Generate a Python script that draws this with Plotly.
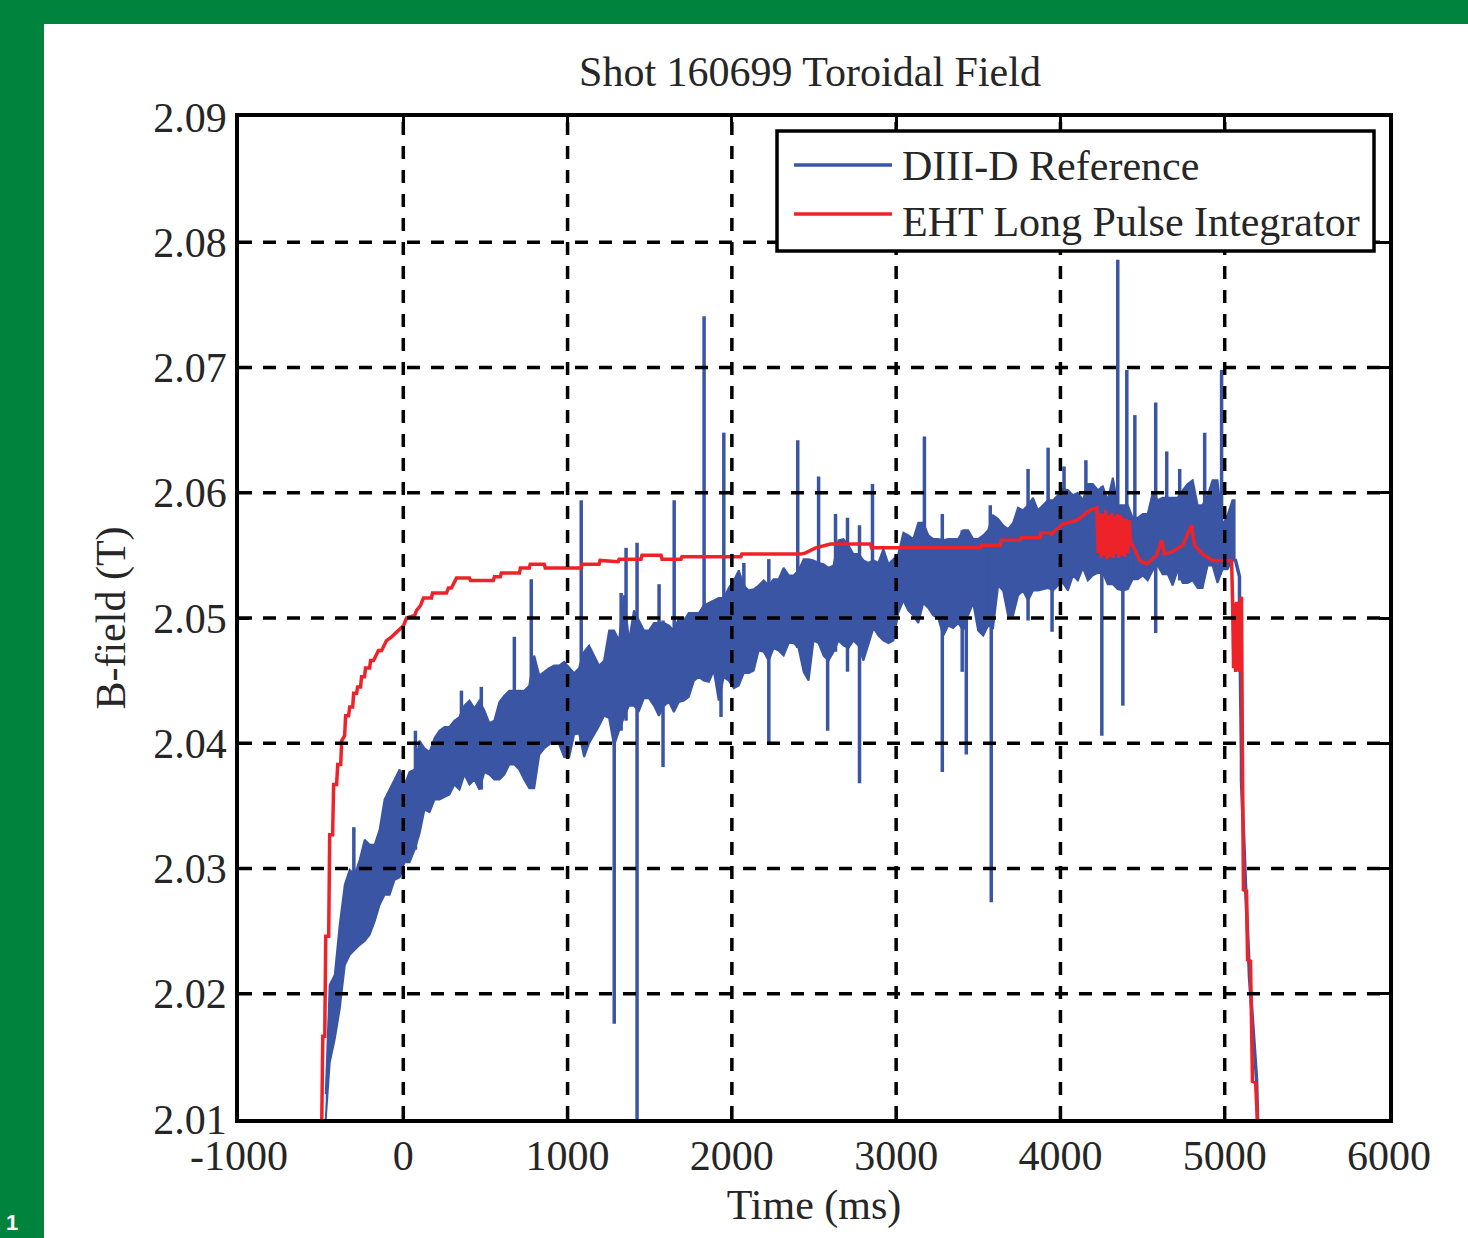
import plotly.graph_objects as go

# ---------------- data ----------------
x_ticks = [-1000, 0, 1000, 2000, 3000, 4000, 5000, 6000]
x_labels = ["-1000", "0", "1000", "2000", "3000", "4000", "5000", "6000"]
y_ticks = [2.01, 2.02, 2.03, 2.04, 2.05, 2.06, 2.07, 2.08, 2.09]
y_labels = ["2.01", "2.02", "2.03", "2.04", "2.05", "2.06", "2.07", "2.08", "2.09"]

series_names = ["DIII-D Reference", "EHT Long Pulse Integrator"]

# DIII-D reference: envelope of the dense noisy band (time in ms, field in T)
env_t = [-472, -448, -417, -387, -356, -326, -296, -265, -235, -205, -174, -144, -114, -83, -53, -22,
         8, 38, 69, 99, 129, 160, 190, 220, 251, 281, 311, 342, 372, 403, 433, 463, 494, 524, 554,
         585, 615, 645, 676, 706, 736, 767, 797, 828, 858, 888, 919, 949, 979, 1010, 1040, 1070,
         1101, 1131, 1162, 1192, 1222, 1253, 1283, 1313, 1344, 1374, 1404, 1435, 1465, 1495, 1526,
         1556, 1587, 1617, 1647, 1678, 1708, 1738, 1769, 1799, 1829, 1860, 1890, 1920, 1951, 1981,
         2012, 2042, 2072, 2103, 2133, 2163, 2194, 2224, 2254, 2285, 2315, 2346, 2376, 2406, 2437,
         2467, 2497, 2528, 2558, 2588, 2619, 2649, 2679, 2710, 2740, 2771, 2801, 2831, 2862, 2892,
         2922, 2953, 2983, 3013, 3044, 3074, 3104, 3135, 3165, 3196, 3226, 3256, 3287, 3317, 3347,
         3378, 3408, 3438, 3469, 3499, 3530, 3560, 3590, 3621, 3651, 3681, 3712, 3742, 3772, 3803,
         3833, 3863, 3894, 3924, 3955, 3985, 4015, 4046, 4076, 4106, 4137, 4167, 4197, 4228, 4258,
         4288, 4319, 4349, 4380, 4410, 4440, 4471, 4501, 4531, 4562, 4592, 4622, 4653, 4683, 4713,
         4744, 4774, 4805, 4835, 4865, 4896, 4926, 4956, 4987, 5017, 5047, 5060]
env_top = [2.0120, 2.0207, 2.0215, 2.0255, 2.0287, 2.0299, 2.0295, 2.0307, 2.0323, 2.0319,
           2.0319, 2.0331, 2.0355, 2.0363, 2.0371, 2.0379, 2.0367, 2.0377, 2.0379, 2.0402,
           2.0396, 2.0393, 2.0404, 2.0410, 2.0413, 2.0413, 2.0418, 2.0421, 2.0430, 2.0434,
           2.0428, 2.0434, 2.0426, 2.0416, 2.0418, 2.0433, 2.0438, 2.0442, 2.0442, 2.0442,
           2.0442, 2.0446, 2.0470, 2.0454, 2.0457, 2.0460, 2.0462, 2.0462, 2.0465, 2.0460,
           2.0456, 2.0460, 2.0473, 2.0478, 2.0470, 2.0462, 2.0466, 2.0490, 2.0490, 2.0482,
           2.0518, 2.0482, 2.0506, 2.0498, 2.0490, 2.0490, 2.0496, 2.0496, 2.0496, 2.0494,
           2.0490, 2.0500, 2.0498, 2.0504, 2.0504, 2.0504, 2.0510, 2.0512, 2.0514, 2.0516,
           2.0516, 2.0524, 2.0530, 2.0538, 2.0526, 2.0522, 2.0523, 2.0526, 2.0530, 2.0526,
           2.0531, 2.0531, 2.0540, 2.0534, 2.0534, 2.0538, 2.0547, 2.0547, 2.0546, 2.0544,
           2.0543, 2.0540, 2.0542, 2.0562, 2.0563, 2.0558, 2.0551, 2.0551, 2.0546, 2.0544,
           2.0546, 2.0544, 2.0555, 2.0543, 2.0547, 2.0551, 2.0568, 2.0566, 2.0563, 2.0576,
           2.0576, 2.0566, 2.0563, 2.0563, 2.0562, 2.0563, 2.0563, 2.0563, 2.0570, 2.0570,
           2.0563, 2.0563, 2.0566, 2.0570, 2.0582, 2.0579, 2.0574, 2.0571, 2.0576, 2.0588,
           2.0586, 2.0590, 2.0596, 2.0586, 2.0590, 2.0594, 2.0594, 2.0598, 2.0603, 2.0602,
           2.0598, 2.0600, 2.0594, 2.0607, 2.0607, 2.0602, 2.0605, 2.0594, 2.0612, 2.0590,
           2.0590, 2.0590, 2.0580, 2.0580, 2.0583, 2.0583, 2.0600, 2.0594, 2.0596, 2.0596,
           2.0596, 2.0596, 2.0602, 2.0607, 2.0610, 2.0590, 2.0590, 2.0598, 2.0610, 2.0610,
           2.0574, 2.0582, 2.0594, 2.0594]
env_bot = [2.0100, 2.0145, 2.0164, 2.0188, 2.0223, 2.0231, 2.0235, 2.0239, 2.0242, 2.0247,
           2.0258, 2.0271, 2.0279, 2.0279, 2.0291, 2.0293, 2.0305, 2.0305, 2.0315, 2.0328,
           2.0347, 2.0345, 2.0355, 2.0355, 2.0357, 2.0359, 2.0367, 2.0363, 2.0375, 2.0367,
           2.0371, 2.0363, 2.0377, 2.0375, 2.0371, 2.0371, 2.0375, 2.0383, 2.0383, 2.0379,
           2.0371, 2.0364, 2.0364, 2.0391, 2.0396, 2.0399, 2.0402, 2.0399, 2.0389, 2.0389,
           2.0407, 2.0408, 2.0389, 2.0400, 2.0407, 2.0414, 2.0422, 2.0420, 2.0398, 2.0410,
           2.0421, 2.0430, 2.0430, 2.0426, 2.0436, 2.0436, 2.0430, 2.0422, 2.0430, 2.0433,
           2.0425, 2.0433, 2.0434, 2.0437, 2.0450, 2.0453, 2.0450, 2.0449, 2.0458, 2.0434,
           2.0453, 2.0450, 2.0444, 2.0446, 2.0456, 2.0456, 2.0458, 2.0474, 2.0473, 2.0466,
           2.0476, 2.0474, 2.0470, 2.0480, 2.0480, 2.0476, 2.0457, 2.0450, 2.0482, 2.0480,
           2.0470, 2.0466, 2.0473, 2.0482, 2.0478, 2.0476, 2.0482, 2.0478, 2.0466, 2.0478,
           2.0492, 2.0486, 2.0482, 2.0480, 2.0482, 2.0504, 2.0514, 2.0506, 2.0502, 2.0496,
           2.0512, 2.0508, 2.0502, 2.0500, 2.0486, 2.0494, 2.0492, 2.0496, 2.0490, 2.0502,
           2.0512, 2.0490, 2.0486, 2.0494, 2.0492, 2.0526, 2.0522, 2.0502, 2.0502, 2.0518,
           2.0522, 2.0514, 2.0522, 2.0522, 2.0523, 2.0524, 2.0522, 2.0526, 2.0528, 2.0522,
           2.0534, 2.0530, 2.0540, 2.0530, 2.0534, 2.0536, 2.0536, 2.0527, 2.0527, 2.0523,
           2.0522, 2.0523, 2.0531, 2.0531, 2.0534, 2.0530, 2.0538, 2.0542, 2.0535, 2.0535,
           2.0526, 2.0538, 2.0528, 2.0528, 2.0530, 2.0524, 2.0524, 2.0542, 2.0542, 2.0528,
           2.0539, 2.0539, 2.0546, 2.0546]

# DIII-D reference: isolated spikes (time, low end, high end)
spike_t = [-301, 74, 354, 475, 676, 779, 1083, 1284, 1326, 1356, 1423, 1557, 1581, 1649, 1831, 1934,
           1951, 2073, 2225, 2401, 2528, 2583, 2631, 2704, 2777, 2856, 3172, 3281, 3402, 3427, 3573,
           3579, 3803, 3925, 3949, 4022, 4155, 4252, 4349, 4380, 4404, 4453, 4580, 4647, 4726, 4878, 4981]
spike_lo = [2.0235, 2.0315, 2.0371, 2.0363, 2.0387, 2.0371, 2.0402, 2.0176, 2.0410, 2.0418, 2.0100,
            2.0434, 2.0381, 2.0430, 2.0450, 2.0421, 2.0453, 2.0460, 2.0401, 2.0476, 2.0480, 2.0410,
            2.0473, 2.0457, 2.0368, 2.0490, 2.0512, 2.0377, 2.0457, 2.0391, 2.0494, 2.0273, 2.0498,
            2.0524, 2.0489, 2.0528, 2.0540, 2.0406, 2.0523, 2.0430, 2.0523, 2.0531, 2.0488, 2.0535,
            2.0530, 2.0542, 2.0539]
spike_hi = [2.0333, 2.0410, 2.0442, 2.0445, 2.0485, 2.0531, 2.0594, 2.0482, 2.0520, 2.0556, 2.0560,
            2.0527, 2.0498, 2.0594, 2.0741, 2.0516, 2.0648, 2.0544, 2.0547, 2.0642, 2.0613, 2.0540,
            2.0583, 2.0580, 2.0574, 2.0607, 2.0645, 2.0583, 2.0570, 2.0570, 2.0590, 2.0570, 2.0619,
            2.0636, 2.0594, 2.0621, 2.0626, 2.0605, 2.0786, 2.0590, 2.0698, 2.0662, 2.0672, 2.0633,
            2.0619, 2.0648, 2.0698]

# DIII-D reference: ramp-down at the end of the shot
tail_t = [5060, 5066, 5090, 5090, 5102, 5102, 5127, 5133, 5151, 5151, 5194, 5200]
tail_v = [2.0546, 2.0546, 2.0533, 2.0512, 2.0389, 2.0371, 2.0285, 2.0270, 2.0226, 2.0213, 2.0131, 2.0100]

# EHT Long Pulse Integrator
red_t = [-496, -490, -478, -472, -454, -448, -430, -424, -406, -399, -381, -375, -357, -351, -333,
         -326, -308, -302, -284, -278, -260, -254, -236, -230, -205, -199, -181, -151, -132, -102,
         -71, -29, 2, 20, 69, 81, 105, 123, 172, 178, 263, 275, 293, 305, 324, 403, 409, 548, 555,
         591, 597, 707, 713, 767, 773, 858, 864, 1083, 1089, 1192, 1198, 1308, 1314, 1447, 1453,
         1569, 1575, 1690, 1696, 2055, 2061, 2419, 2449, 2510, 2601, 2844, 2850, 3512, 3518, 3634,
         3640, 3755, 3761, 3876, 3882, 3936, 3943, 4015, 4100, 4179, 4221,
         4230, 4239, 4248, 4257, 4266, 4275, 4284, 4293, 4302, 4311, 4320, 4329, 4338, 4347, 4356,
         4365, 4374, 4383, 4392, 4401, 4410, 4419, 4428,
         4440, 4483, 4525, 4586, 4616, 4634, 4683, 4744,
         4798, 4817, 4865, 4926, 5042, 5048, 5054, 5060, 5066, 5072, 5078, 5084, 5090, 5096, 5102,
         5108, 5114, 5133, 5139, 5157, 5169, 5188, 5200]
red_v = [2.0100, 2.0166, 2.0166, 2.0246, 2.0246, 2.0327, 2.0327, 2.0367, 2.0367, 2.0383, 2.0383,
         2.0402, 2.0406, 2.0422, 2.0422, 2.0429, 2.0429, 2.0440, 2.0440, 2.0445, 2.0445, 2.0453,
         2.0453, 2.0460, 2.0460, 2.0466, 2.0466, 2.0474, 2.0474, 2.0482, 2.0485, 2.0490, 2.0494,
         2.0500, 2.0502, 2.0506, 2.0510, 2.0516, 2.0516, 2.0520, 2.0520, 2.0524, 2.0524, 2.0527,
         2.0532, 2.0532, 2.0530, 2.0530, 2.0533, 2.0533, 2.0536, 2.0536, 2.0540, 2.0540, 2.0543,
         2.0543, 2.0540, 2.0540, 2.0543, 2.0543, 2.0546, 2.0545, 2.0547, 2.0547, 2.0550, 2.0550,
         2.0547, 2.0547, 2.0549, 2.0549, 2.0551, 2.0551, 2.0552, 2.0556, 2.0559, 2.0559, 2.0556,
         2.0556, 2.0558, 2.0558, 2.0562, 2.0562, 2.0564, 2.0564, 2.0568, 2.0568, 2.0567, 2.0575,
         2.0578, 2.0586, 2.0588,
         2.0552, 2.0584, 2.0548, 2.0583, 2.0550, 2.0586, 2.0547, 2.0582, 2.0549, 2.0584, 2.0548,
         2.0581, 2.0551, 2.0583, 2.0548, 2.0582, 2.0550, 2.0580, 2.0549, 2.0579, 2.0552, 2.0578,
         2.0560,
         2.0558, 2.0546, 2.0543, 2.0550, 2.0562, 2.0551, 2.0553, 2.0558,
         2.0574, 2.0558, 2.0551, 2.0546, 2.0546, 2.0512, 2.0460, 2.0512, 2.0457, 2.0513, 2.0458,
         2.0512, 2.0457, 2.0514, 2.0517, 2.0387, 2.0283, 2.0282, 2.0227, 2.0226, 2.0130, 2.0129, 2.0096]

# ---------------- styling ----------------
BLUE = "#3A55A3"
RED = "#EE2329"
GREEN = "#00843D"
FONT = "Liberation Serif"
TXT = "#262626"
FS = 42

W, H = 1468, 1238
L, R, T, B = 239, 79, 117, 119


def px_x(X):
    return (X - L) / (W - L - R)


def px_y(Y):
    return (H - B - Y) / (H - T - B)


fig = go.Figure()

n = min(len(env_t), len(env_top), len(env_bot))
band_x = env_t[:n] + env_t[:n][::-1]
band_y = env_top[:n] + env_bot[:n][::-1]
fig.add_trace(go.Scatter(x=band_x, y=band_y, mode="lines", fill="toself", fillcolor=BLUE,
                         line=dict(color=BLUE, width=2), showlegend=False, hoverinfo="skip"))

sx, sy = [], []
for t, lo, hi in zip(spike_t, spike_lo, spike_hi):
    sx += [t, t, None]
    sy += [lo, hi, None]
fig.add_trace(go.Scatter(x=sx, y=sy, mode="lines", line=dict(color=BLUE, width=3.5),
                         name=series_names[0], showlegend=False))
fig.add_trace(go.Scatter(x=tail_t, y=tail_v, mode="lines", line=dict(color=BLUE, width=3.5),
                         showlegend=False, hoverinfo="skip"))
m = min(len(red_t), len(red_v))
fig.add_trace(go.Scatter(x=red_t[:m], y=red_v[:m], mode="lines", line=dict(color=RED, width=3.5),
                         name=series_names[1], showlegend=False))

shapes = []
GRID = dict(color="black", width=3.5, dash="13px,11px")
for t in x_ticks[1:-1]:
    shapes.append(dict(type="line", xref="x", yref="paper", x0=t, x1=t, y0=0, y1=1,
                       line=GRID, layer="above"))
for v in y_ticks[1:-1]:
    shapes.append(dict(type="line", xref="paper", yref="y", x0=0, x1=1, y0=v, y1=v,
                       line=GRID, layer="above"))

# legend box (drawn like the MATLAB legend of the reference)
shapes.append(dict(type="rect", xref="paper", yref="paper", x0=px_x(777), x1=px_x(1374),
                   y0=px_y(251), y1=px_y(131), fillcolor="white",
                   line=dict(color="black", width=3.5), layer="above"))
leg_line_rows = [165, 214]
leg_text_rows = [166, 222]
leg_colors = [BLUE, RED]
annotations = []
for lrow, trow, col, name in zip(leg_line_rows, leg_text_rows, leg_colors, series_names):
    shapes.append(dict(type="line", xref="paper", yref="paper", x0=px_x(794), x1=px_x(892),
                       y0=px_y(lrow), y1=px_y(lrow), line=dict(color=col, width=3.5), layer="above"))
    annotations.append(dict(text=name, xref="paper", yref="paper", x=px_x(900), y=px_y(trow),
                            xanchor="left", yanchor="middle", showarrow=False,
                            font=dict(family=FONT, size=FS, color=TXT)))

# green page frame (outside the plotting area)
shapes.append(dict(type="rect", xref="paper", yref="paper", x0=px_x(-10), x1=px_x(44),
                   y0=px_y(H + 10), y1=px_y(-10), fillcolor=GREEN, line=dict(width=0), layer="above"))
shapes.append(dict(type="rect", xref="paper", yref="paper", x0=px_x(-10), x1=px_x(W + 10),
                   y0=px_y(24), y1=px_y(-10), fillcolor=GREEN, line=dict(width=0), layer="above"))
annotations.append(dict(text="<b>1</b>", xref="paper", yref="paper", x=px_x(12), y=px_y(1222),
                        showarrow=False, xanchor="center", yanchor="middle",
                        font=dict(family="Liberation Sans", size=22, color="white")))

fig.update_layout(
    width=W, height=H, autosize=False,
    margin=dict(l=L, r=R, t=T, b=B, pad=0),
    paper_bgcolor="white", plot_bgcolor="white",
    font=dict(family=FONT, size=FS, color=TXT),
    title=dict(text="Shot 160699 Toroidal Field", xref="container", x=810 / W, xanchor="center",
               yref="container", y=1 - 71 / H, yanchor="middle",
               font=dict(family=FONT, size=FS, color=TXT)),
    showlegend=False,
    hovermode=False,
    shapes=shapes,
    annotations=annotations,
)

fig.update_xaxes(range=[-1000, 6000], tickmode="array", tickvals=x_ticks, ticktext=x_labels,
                 showgrid=False, zeroline=False, showline=True, linecolor="black", linewidth=3.5,
                 mirror="ticks", ticks="inside", ticklen=10, tickwidth=3, tickcolor="black",
                 ticklabelstandoff=-3, layer="above traces",
                 title=dict(text="Time (ms)", standoff=12, font=dict(family=FONT, size=FS, color=TXT)))
fig.update_yaxes(range=[2.01, 2.09], tickmode="array", tickvals=y_ticks, ticktext=y_labels,
                 showgrid=False, zeroline=False, showline=True, linecolor="black", linewidth=3.5,
                 mirror="ticks", ticks="inside", ticklen=10, tickwidth=3, tickcolor="black",
                 ticklabelstandoff=0, layer="above traces",
                 title=dict(text="B-field (T)", standoff=16, font=dict(family=FONT, size=FS, color=TXT)))

fig.write_html("out.html", config={"displayModeBar": False},
               post_script="document.body.style.margin='0';document.body.style.overflow='hidden';")
